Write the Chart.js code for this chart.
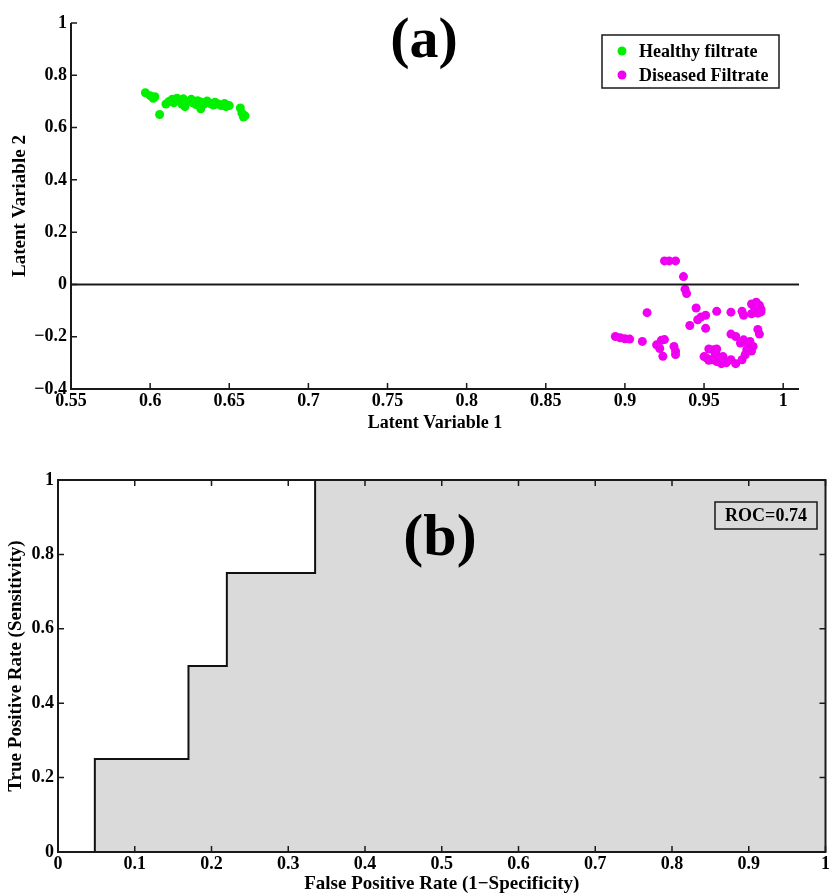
<!DOCTYPE html>
<html>
<head>
<meta charset="utf-8">
<script src="https://cdn.jsdelivr.net/npm/chart.js@4.4.1/dist/chart.umd.min.js"></script>
<style>
  html, body { margin: 0; padding: 0; background: #fff; }
  #wrap { position: relative; width: 832px; height: 895px; overflow: hidden; }
  #wrap canvas { position: absolute; left: 0; }
  #scatterChart { top: 0; }
  #rocChart { top: 440px; }
</style>
</head>
<body>
<div id="wrap">
  <canvas id="scatterChart" width="832" height="440"></canvas>
  <canvas id="rocChart" width="832" height="455"></canvas>
</div>
<script>
// PLS scores - healthy filtrate samples
var healthyLv1 = [0.597, 0.600, 0.602, 0.603, 0.606, 0.610, 0.612, 0.614, 0.615, 0.617,
  0.618, 0.620, 0.621, 0.622, 0.624, 0.626, 0.627, 0.629, 0.630, 0.632,
  0.632, 0.634, 0.636, 0.638, 0.640, 0.641, 0.643, 0.645, 0.647, 0.648,
  0.650, 0.657, 0.658, 0.660, 0.659];
var healthyLv2 = [0.733, 0.722, 0.712, 0.718, 0.650, 0.690, 0.700, 0.708, 0.695, 0.712,
  0.703, 0.690, 0.710, 0.680, 0.700, 0.708, 0.695, 0.688, 0.703, 0.698,
  0.672, 0.690, 0.702, 0.692, 0.686, 0.697, 0.690, 0.684, 0.692, 0.680,
  0.684, 0.675, 0.655, 0.645, 0.640];

// PLS scores - diseased filtrate samples
var diseasedLv1 = [0.925, 0.928, 0.932, 0.937, 0.938, 0.939,
  0.914, 0.945, 0.941, 0.946, 0.948, 0.951, 0.951, 0.958, 0.967, 0.974, 0.975,
  0.980, 0.983, 0.985, 0.986, 0.984, 0.980, 0.986, 0.982,
  0.984, 0.985,
  0.894, 0.897, 0.900, 0.903, 0.911, 0.920, 0.923, 0.925, 0.922, 0.924, 0.931, 0.932, 0.932,
  0.950, 0.952, 0.953, 0.956, 0.958, 0.955, 0.958, 0.961, 0.964, 0.967, 0.970, 0.974,
  0.976, 0.977, 0.978, 0.981, 0.975, 0.970, 0.967, 0.973, 0.979, 0.962, 0.959, 0.953,
  0.957, 0.980];
var diseasedLv2 = [0.090, 0.090, 0.090, 0.030, -0.018, -0.035,
  -0.108, -0.090, -0.157, -0.135, -0.125, -0.118, -0.168, -0.103, -0.106, -0.103, -0.118,
  -0.075, -0.068, -0.080, -0.095, -0.110, -0.112, -0.105, -0.090,
  -0.172, -0.190,
  -0.199, -0.204, -0.208, -0.209, -0.218, -0.231, -0.214, -0.211, -0.245, -0.275, -0.237, -0.255, -0.268,
  -0.276, -0.283, -0.247, -0.250, -0.247, -0.288, -0.295, -0.303, -0.300, -0.288, -0.303, -0.288,
  -0.269, -0.250, -0.231, -0.237, -0.212, -0.199, -0.190, -0.224, -0.218, -0.276, -0.276, -0.290,
  -0.265, -0.255];

var lvTicksX = [0.55, 0.6, 0.65, 0.7, 0.75, 0.8, 0.85, 0.9, 0.95, 1];
var lvTicksY = [-0.4, -0.2, 0, 0.2, 0.4, 0.6, 0.8, 1];
var lvRangeX = [0.55, 1.01];
var lvRangeY = [-0.4, 1];

// ROC curve
var fpr = [0, 0.048, 0.17, 0.22, 0.335, 1];
var tpr = [0, 0.25, 0.5, 0.75, 1, 1];
var rocTicksX = [0, 0.1, 0.2, 0.3, 0.4, 0.5, 0.6, 0.7, 0.8, 0.9, 1];
var rocTicksY = [0, 0.2, 0.4, 0.6, 0.8, 1];
var rocArea = 0.74;

var serif = "'Liberation Serif', 'Times New Roman', serif";
Chart.defaults.color = "#000";
Chart.defaults.font.family = serif;
Chart.defaults.font.weight = "bold";
Chart.defaults.font.size = 18;

function toPoints(xs, ys) {
  return xs.map(function (x, i) {
    return { x: x, y: ys[i] };
  });
}

function fmtTick(v) {
  return v < 0 ? "\u2212" + Math.abs(v) : String(v);
}

function fixedTicks(list) {
  return function (scale) {
    scale.ticks = list.map(function (v) {
      return { value: v };
    });
  };
}

// MATLAB-like tick marks pointing into the axes
function drawInnerTicks(chart, mirror) {
  var ctx = chart.ctx;
  var area = chart.chartArea;
  var xs = chart.scales.x;
  var ys = chart.scales.y;
  var len = 6;
  ctx.save();
  ctx.strokeStyle = "#1a1a1a";
  ctx.lineWidth = 1.5;
  ctx.beginPath();
  xs.ticks.forEach(function (t) {
    var px = xs.getPixelForValue(t.value);
    ctx.moveTo(px, area.bottom);
    ctx.lineTo(px, area.bottom - len);
    if (mirror) {
      ctx.moveTo(px, area.top);
      ctx.lineTo(px, area.top + len);
    }
  });
  ys.ticks.forEach(function (t) {
    var py = ys.getPixelForValue(t.value);
    ctx.moveTo(area.left, py);
    ctx.lineTo(area.left + len, py);
    if (mirror) {
      ctx.moveTo(area.right, py);
      ctx.lineTo(area.right - len, py);
    }
  });
  ctx.stroke();
  ctx.restore();
}

var scatterDecor = {
  id: "scatterDecor",
  afterDatasetsDraw: function (chart) {
    var ctx = chart.ctx;
    var area = chart.chartArea;
    ctx.save();
    // left + bottom axis lines only
    ctx.strokeStyle = "#1a1a1a";
    ctx.lineWidth = 2;
    ctx.beginPath();
    ctx.moveTo(area.left, area.top);
    ctx.lineTo(area.left, area.bottom);
    ctx.lineTo(area.right, area.bottom);
    ctx.stroke();
    ctx.restore();
    drawInnerTicks(chart, false);

    ctx.save();
    ctx.fillStyle = "#000";
    ctx.textAlign = "center";
    ctx.textBaseline = "alphabetic";
    ctx.font = "bold 58px " + serif;
    ctx.fillText("(a)", 424, 57);

    // legend box
    ctx.fillStyle = "#fff";
    ctx.fillRect(602, 35, 177, 53);
    ctx.strokeStyle = "#1a1a1a";
    ctx.lineWidth = 1.5;
    ctx.strokeRect(602, 35, 177, 53);
    ctx.font = "bold 18px " + serif;
    ctx.textAlign = "left";
    ctx.textBaseline = "middle";
    chart.data.datasets.forEach(function (ds, i) {
      if (!ds.inLegend) return;
      var row = i === 1 ? 0 : 1;
      var cy = 51 + row * 24;
      ctx.fillStyle = ds.backgroundColor;
      ctx.beginPath();
      ctx.arc(622, cy, 4.5, 0, Math.PI * 2);
      ctx.fill();
      ctx.fillStyle = "#000";
      ctx.fillText(ds.label, 639, cy + 1);
    });
    ctx.restore();
  }
};

var rocDecor = {
  id: "rocDecor",
  afterDatasetsDraw: function (chart) {
    var ctx = chart.ctx;
    var area = chart.chartArea;
    ctx.save();
    ctx.strokeStyle = "#1a1a1a";
    ctx.lineWidth = 2;
    ctx.strokeRect(area.left, area.top, area.right - area.left, area.bottom - area.top);
    ctx.restore();
    drawInnerTicks(chart, true);

    ctx.save();
    ctx.fillStyle = "#000";
    ctx.textAlign = "center";
    ctx.textBaseline = "alphabetic";
    ctx.font = "bold 60px " + serif;
    ctx.fillText("(b)", 440, 115);

    ctx.strokeStyle = "#1a1a1a";
    ctx.lineWidth = 1.5;
    ctx.strokeRect(715, 62, 102, 27);
    ctx.font = "bold 18px " + serif;
    ctx.textBaseline = "middle";
    ctx.fillText("ROC=" + rocArea.toFixed(2), 766, 76);
    ctx.restore();
  }
};

var scatterChart = new Chart(document.getElementById("scatterChart"), {
  type: "scatter",
  data: {
    datasets: [
      {
        type: "line",
        label: "zero",
        data: [{ x: lvRangeX[0], y: 0 }, { x: lvRangeX[1], y: 0 }],
        borderColor: "#1a1a1a",
        borderWidth: 2,
        pointRadius: 0,
        fill: false
      },
      {
        label: "Healthy filtrate",
        inLegend: true,
        data: toPoints(healthyLv1, healthyLv2),
        backgroundColor: "#00f000",
        borderWidth: 0,
        pointRadius: 4.5
      },
      {
        label: "Diseased Filtrate",
        inLegend: true,
        data: toPoints(diseasedLv1, diseasedLv2),
        backgroundColor: "#f000f0",
        borderWidth: 0,
        pointRadius: 4.5
      }
    ]
  },
  options: {
    responsive: false,
    animation: false,
    events: [],
    layout: { autoPadding: false, padding: { top: 23, right: 33, left: 0, bottom: 0 } },
    plugins: { legend: { display: false }, tooltip: { enabled: false } },
    scales: {
      x: {
        type: "linear",
        min: lvRangeX[0],
        max: lvRangeX[1],
        afterBuildTicks: fixedTicks(lvTicksX),
        afterFit: function (scale) { scale.height = 51; },
        grid: { display: false, drawTicks: false },
        border: { display: false },
        ticks: { padding: 2, maxRotation: 0, autoSkip: false, callback: fmtTick },
        title: { display: true, text: "Latent Variable 1", font: { size: 18 }, padding: { top: 0, bottom: 6 } }
      },
      y: {
        type: "linear",
        min: lvRangeY[0],
        max: lvRangeY[1],
        afterBuildTicks: fixedTicks(lvTicksY),
        afterFit: function (scale) { scale.width = 71; },
        grid: { display: false, drawTicks: false },
        border: { display: false },
        ticks: { padding: 4, autoSkip: false, callback: fmtTick },
        title: { display: true, text: "Latent Variable 2", font: { size: 19 }, padding: { top: 9, bottom: 0 } }
      }
    }
  },
  plugins: [scatterDecor]
});

var rocChart = new Chart(document.getElementById("rocChart"), {
  type: "line",
  data: {
    datasets: [
      {
        label: "ROC",
        data: toPoints(fpr, tpr),
        stepped: "before",
        borderColor: "#111",
        borderWidth: 2,
        backgroundColor: "#dadada",
        fill: "origin",
        pointRadius: 0
      }
    ]
  },
  options: {
    responsive: false,
    animation: false,
    events: [],
    layout: { autoPadding: false, padding: { top: 40, right: 1, left: 0, bottom: 0 } },
    plugins: { legend: { display: false }, tooltip: { enabled: false } },
    scales: {
      x: {
        type: "linear",
        min: 0,
        max: 1,
        afterBuildTicks: fixedTicks(rocTicksX),
        afterFit: function (scale) { scale.height = 43; },
        grid: { display: false, drawTicks: false },
        border: { display: false },
        ticks: { padding: 2, maxRotation: 0, autoSkip: false, callback: fmtTick },
        title: { display: true, text: "False Positive Rate (1\u2212Specificity)", font: { size: 19 }, padding: { top: 0, bottom: 0 } }
      },
      y: {
        type: "linear",
        min: 0,
        max: 1,
        afterBuildTicks: fixedTicks(rocTicksY),
        afterFit: function (scale) { scale.width = 58; },
        grid: { display: false, drawTicks: false },
        border: { display: false },
        ticks: { padding: 4, autoSkip: false, callback: fmtTick },
        title: { display: true, text: "True Positive Rate (Sensitivity)", font: { size: 19 }, padding: { top: 5, bottom: 0 } }
      }
    }
  },
  plugins: [rocDecor]
});
</script>
</body>
</html>
